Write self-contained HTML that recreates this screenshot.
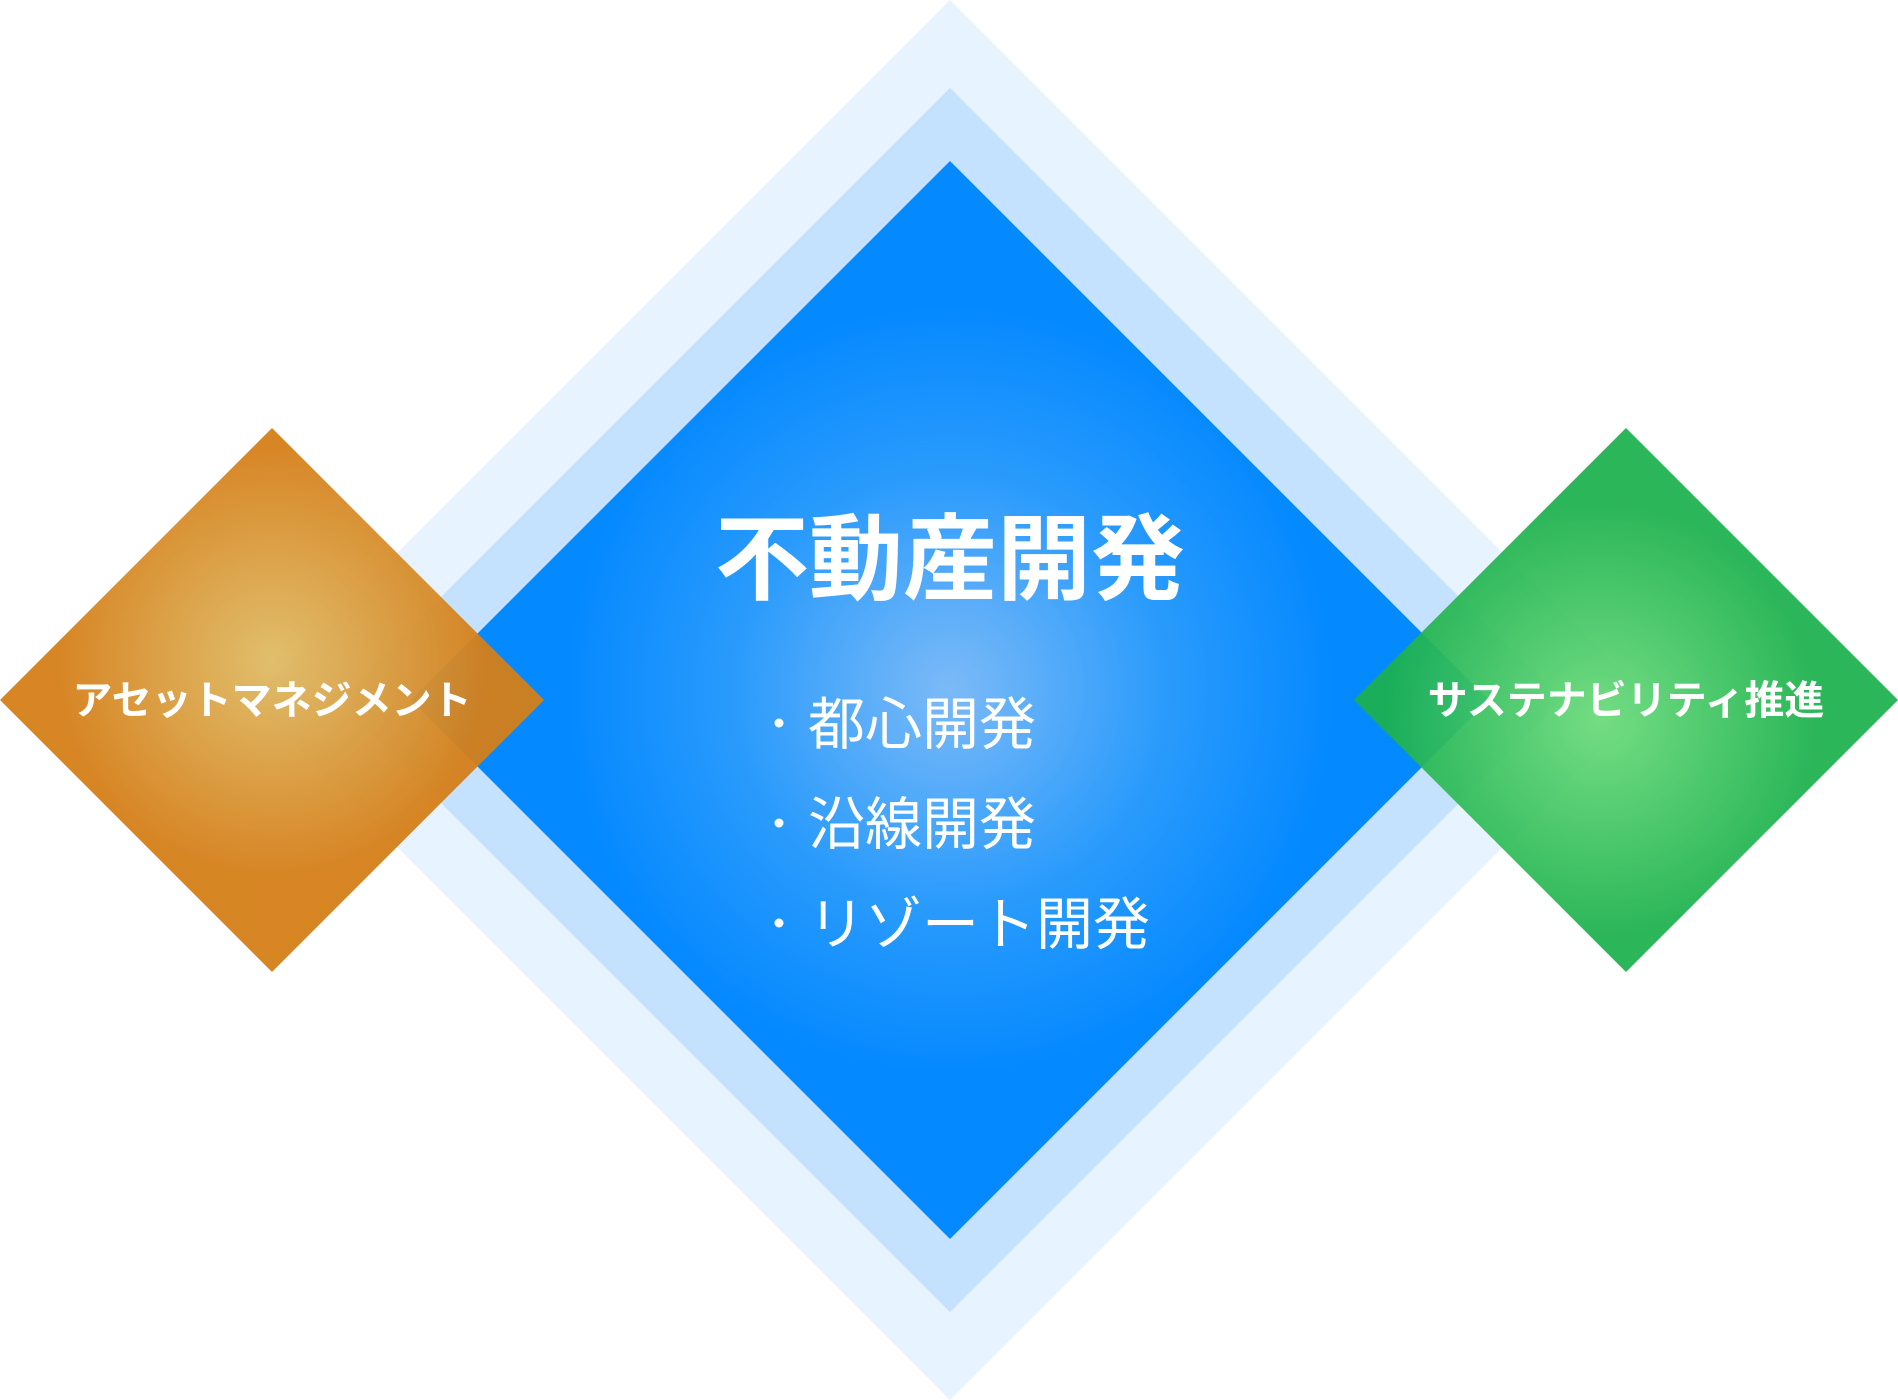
<!DOCTYPE html>
<html><head><meta charset="utf-8"><style>
html,body{margin:0;padding:0;background:#fff;}
svg{display:block}
text{font-family:"Liberation Sans","Noto Sans CJK JP",sans-serif;fill:#fff}
</style></head><body>
<svg width="1898" height="1400" viewBox="0 0 1898 1400" xmlns="http://www.w3.org/2000/svg">
<defs>
<radialGradient id="gb" cx="950" cy="690" r="480" gradientUnits="userSpaceOnUse">
<stop offset="0" stop-color="#7cbaf7"/><stop offset="0.45" stop-color="#2a9bfc"/><stop offset="0.8" stop-color="#0589ff"/><stop offset="1" stop-color="#0589ff"/></radialGradient>
<radialGradient id="go" cx="272" cy="660" r="215" gradientUnits="userSpaceOnUse">
<stop offset="0" stop-color="#dfbb65"/><stop offset="1" stop-color="#d57f19"/></radialGradient>
<radialGradient id="gg" cx="1600" cy="720" r="215" gradientUnits="userSpaceOnUse">
<stop offset="0" stop-color="#6bdb7a"/><stop offset="1" stop-color="#1cb14d"/></radialGradient>
</defs>
<polygon points="950,0 1650,700 950,1400 250,700" fill="#e7f3ff"/>
<polygon points="950,88 1562,700 950,1312 338,700" fill="#c4e2fd"/>
<polygon points="950,161 1489,700 950,1239 411,700" fill="url(#gb)"/>
<polygon points="272,428 544,700 272,972 0,700" fill="url(#go)" opacity="0.95"/>
<polygon points="1626,428 1898,700 1626,972 1354,700" fill="url(#gg)" opacity="0.93"/>
<text x="950" y="592" font-size="94" font-weight="bold" text-anchor="middle">不動産開発</text>
<circle cx="779" cy="723" r="4.5" fill="#fff"/>
<text x="808" y="744" font-size="57">都心開発</text>
<circle cx="779" cy="823" r="4.5" fill="#fff"/>
<text x="808" y="844" font-size="57">沿線開発</text>
<circle cx="779" cy="923" r="4.5" fill="#fff"/>
<text x="808" y="944" font-size="57">リゾート開発</text>
<text x="272" y="714" font-size="40" font-weight="bold" text-anchor="middle">アセットマネジメント</text>
<text x="1626" y="714" font-size="40" font-weight="bold" text-anchor="middle">サステナビリティ推進</text>
</svg>
</body></html>
